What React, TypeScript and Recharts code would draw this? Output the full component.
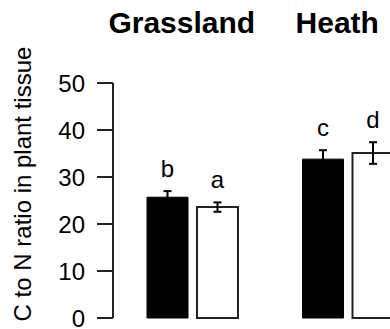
import React from 'react';
import { BarChart, Bar, XAxis, YAxis, ErrorBar, LabelList } from 'recharts';

const categories = ['Grassland', 'Heath'];
const blackValues = [25.7, 33.8];
const blackErrors = [1.3, 1.9];
const blackLetters = ['b', 'c'];
const whiteValues = [23.6, 35.1];
const whiteErrors = [1.0, 2.3];
const whiteLetters = ['a', 'd'];
const yTicks = [0, 10, 20, 30, 40, 50];
const yLabel = 'C to N ratio in plant tissue';

const data = categories.map((c, i) => ({
  category: c,
  black: blackValues[i],
  blackErr: blackErrors[i],
  blackLetter: blackLetters[i],
  white: whiteValues[i],
  whiteErr: whiteErrors[i],
  whiteLetter: whiteLetters[i],
}));

const FONT = '"Liberation Sans", Arial, Helvetica, sans-serif';

const makeLetter = (values: number[], errors: number[]) => (props: any) => {
  const { x, y, width, height, value, index } = props;
  const v = values[index];
  const pxPerUnit = Number(height) / v;
  const top = Number(y) - errors[index] * pxPerUnit;
  return (
    <text
      x={Number(x) + Number(width) / 2}
      y={top - 14}
      textAnchor="middle"
      fontSize={24}
      fontFamily={FONT}
      fill="#000"
    >
      {value}
    </text>
  );
};

const CategoryTick = (props: any) => {
  const { x, payload } = props;
  return (
    <text
      x={Number(x) - 11}
      y={33}
      textAnchor="middle"
      fontSize={30}
      fontWeight="bold"
      fontFamily={FONT}
      fill="#000"
    >
      {payload.value}
    </text>
  );
};

const YLabelContent = () => (
  <text
    x={31}
    y={184}
    transform="rotate(-90 31 184)"
    textAnchor="middle"
    fontSize={24}
    fontFamily={FONT}
    fill="#000"
  >
    {yLabel}
  </text>
);

export default function App() {
  return (
    <div
      style={{
        position: 'absolute',
        left: 0,
        top: 0,
        width: 390,
        height: 329,
        overflow: 'hidden',
        background: '#fff',
      }}
    >
      <BarChart
        width={430}
        height={329}
        data={data}
        margin={{ top: 0, right: 4, bottom: 11, left: 0 }}
        barSize={41}
        barGap={9}
      >
        <XAxis
          dataKey="category"
          orientation="top"
          height={83}
          axisLine={false}
          tickLine={false}
          tick={<CategoryTick />}
          padding={{ left: 2, right: 0 }}
          interval={0}
        />
        <YAxis
          domain={[0, 50]}
          ticks={yTicks}
          interval={0}
          width={113}
          tickSize={16}
          tickMargin={12}
          axisLine={{ stroke: '#222', strokeWidth: 2 }}
          tickLine={{ stroke: '#222', strokeWidth: 2 }}
          tick={{ fontSize: 24, fill: '#000', fontFamily: FONT }}
          label={{ value: yLabel, content: <YLabelContent /> }}
        />
        <Bar dataKey="black" fill="#000" stroke="#000" strokeWidth={1} isAnimationActive={false}>
          <ErrorBar dataKey="blackErr" width={4} stroke="#000" strokeWidth={2} direction="y" />
          <LabelList dataKey="blackLetter" content={makeLetter(blackValues, blackErrors)} />
        </Bar>
        <Bar dataKey="white" fill="#fff" stroke="#222" strokeWidth={2} isAnimationActive={false}>
          <ErrorBar dataKey="whiteErr" width={4} stroke="#000" strokeWidth={2} direction="y" />
          <LabelList dataKey="whiteLetter" content={makeLetter(whiteValues, whiteErrors)} />
        </Bar>
      </BarChart>
    </div>
  );
}
